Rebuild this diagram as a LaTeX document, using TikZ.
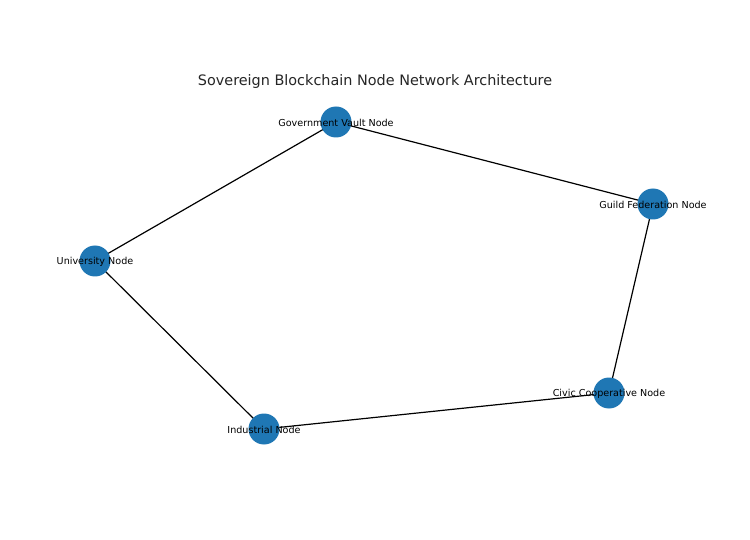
\documentclass[tikz,border=0pt]{standalone}
\usepackage{fontspec}
\setmainfont{DejaVu Sans}
\definecolor{nodeblue}{HTML}{1F77B4}
\definecolor{titlegray}{HTML}{262626}
\begin{document}
\begin{tikzpicture}[x=1pt,y=-1pt,
  vert/.style={circle,fill=nodeblue,minimum size=31pt,inner sep=0pt},
  lbl/.style={font=\fontsize{9.6}{11}\selectfont,text=black,inner sep=0pt,yshift=-1pt},
  edge/.style={draw=black,line width=1.2pt}]
\useasboundingbox[fill=white] (0,0) rectangle (750,540);
\node[font=\fontsize{14.4}{16}\selectfont,text=titlegray] (title) at (375,82) {Sovereign Blockchain Node Network Architecture};
\coordinate (gov) at (336,122);
\coordinate (guild) at (653,204);
\coordinate (univ) at (95,261);
\coordinate (ind) at (264,429);
\coordinate (civic) at (609,393);
\draw[edge] (gov) -- (univ);
\draw[edge] (gov) -- (guild);
\draw[edge] (guild) -- (civic);
\draw[edge] (civic) -- (ind);
\draw[edge] (ind) -- (univ);
\node[vert] (ngov) at (gov) {};
\node[vert] (nguild) at (guild) {};
\node[vert] (nuniv) at (univ) {};
\node[vert] (nind) at (ind) {};
\node[vert] (ncivic) at (civic) {};
\node[lbl] (lgov) at (gov) {Government Vault Node};
\node[lbl] (lguild) at (guild) {Guild Federation Node};
\node[lbl] (luniv) at (univ) {University Node};
\node[lbl] (lind) at (ind) {Industrial Node};
\node[lbl] (lcivic) at (civic) {Civic Cooperative Node};
\end{tikzpicture}
\end{document}
